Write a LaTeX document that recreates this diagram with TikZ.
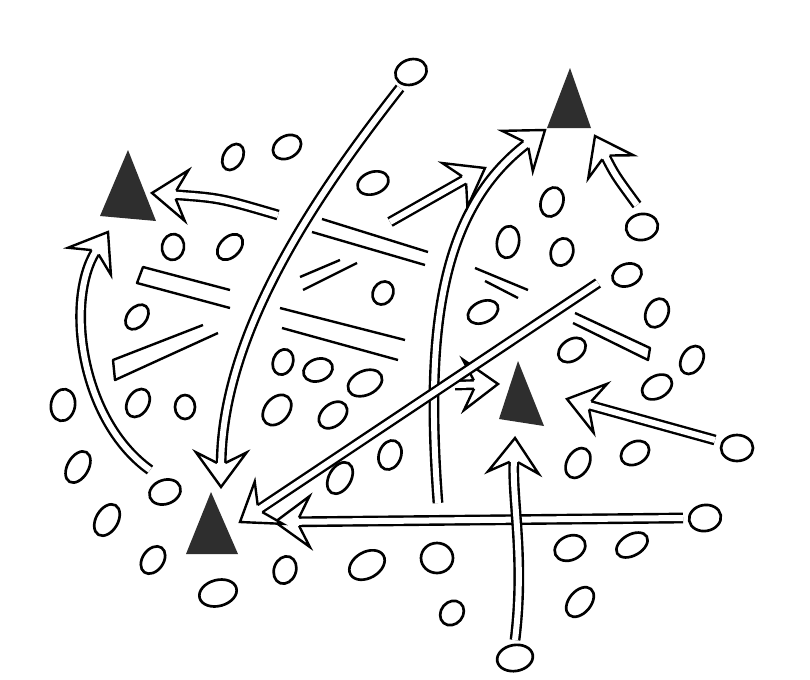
\documentclass[tikz,border=0pt]{standalone}
\usetikzlibrary{shapes.geometric,calc}
\newcommand\pl[5]{\node[player, minimum width=#3*0.75pt, minimum height=#4*0.75pt, rotate=#5] (#1) at (#2) {};}
\newcommand\ahead[2]{%
  \path[headtip] let \p1=(#1), \p2=(#2), \n1={atan2(\y1-\y2,\x1-\x2)} in
    ($(\p1)+(\n1+170.2:18.3pt)$) -- ($(\p1)+(\n1+143.8:32.2pt)$) -- (\p1)
    -- ($(\p1)+(\n1-143.8:32.2pt)$) -- ($(\p1)+(\n1-170.2:18.3pt)$);}
\begin{document}
\begin{tikzpicture}[x=0.75pt,y=-0.75pt,
  player/.style={draw=black, ellipse, line width=2pt, inner sep=0pt, outer sep=0pt},
  coach/.style={fill=black!82},
  dbl/.style={draw=black, line width=1.8pt, double=white, double distance=4.5pt, shorten >=17pt},
  headtip/.style={draw=black, fill=white, line width=1.8pt, line join=miter},
  lane/.style={draw=black, line width=1.8pt, line join=round}]

\useasboundingbox (0,0) rectangle (810,679);
\fill[white] (0,0) rectangle (810,679);

% passing lanes (double lines without heads)
\draw[lane] (230,290) -- (143,267) -- (137,283) -- (230,308);
\draw[lane] (203,325) -- (113,360) -- (115,380) -- (218,333);
\draw[lane] (300,277) -- (340,260) (303,290) -- (357,263);
\draw[lane] (322,219) -- (428,252) (312,232) -- (425,265);
\draw[lane] (280,308) -- (405,340) (282,328) -- (398,360);
\draw[lane] (475,268) -- (528,290) (485,281) -- (518,298);
\draw[lane] (575,313) -- (650,348) -- (648,360) -- (573,323);

% players
\pl{e1}{411,72}{32}{25}{20}
\pl{e2}{233,157}{28}{19}{60}
\pl{e3}{287,147}{30}{22}{30}
\pl{e4}{373,183}{32}{22}{20}
\pl{e5}{173,247}{26}{22}{80}
\pl{e6}{230,247}{30}{20}{45}
\pl{e7}{137,317}{28}{19}{50}
\pl{e8}{383,293}{24}{20}{60}
\pl{e9}{552,202}{30}{22}{70}
\pl{e10}{508,242}{32}{22}{80}
\pl{e11}{562,252}{28}{22}{70}
\pl{e12}{642,227}{32}{26}{10}
\pl{e13}{627,275}{30}{22}{20}
\pl{e14}{657,313}{30}{22}{65}
\pl{e15}{483,312}{32}{21}{25}
\pl{e16}{572,350}{30}{21}{35}
\pl{e17}{692,360}{30}{21}{60}
\pl{e18}{283,362}{26}{20}{70}
\pl{e19}{318,370}{30}{22}{20}
\pl{e20}{365,383}{36}{24}{25}
\pl{e21}{277,410}{34}{24}{50}
\pl{e22}{333,415}{32}{22}{40}
\pl{e23}{390,455}{30}{22}{70}
\pl{e24}{340,478}{34}{22}{60}
\pl{e25}{63,405}{32}{24}{80}
\pl{e26}{138,403}{30}{21}{60}
\pl{e27}{185,407}{24}{20}{90}
\pl{e28}{78,467}{34}{21}{60}
\pl{e29}{165,492}{32}{24}{20}
\pl{e30}{107,520}{34}{22}{60}
\pl{e31}{153,560}{30}{21}{55}
\pl{e32}{218,593}{38}{26}{15}
\pl{e33}{285,570}{28}{22}{70}
\pl{e34}{367,565}{38}{26}{30}
\pl{e35}{657,387}{32}{22}{30}
\pl{e36}{737,448}{32}{26}{0}
\pl{e37}{578,463}{32}{22}{60}
\pl{e38}{635,453}{30}{22}{30}
\pl{e39}{705,518}{32}{26}{10}
\pl{e40}{570,548}{32}{24}{25}
\pl{e41}{632,545}{34}{21}{30}
\pl{e42}{437,558}{32}{30}{0}
\pl{e43}{452,613}{26}{22}{50}
\pl{e44}{580,602}{34}{22}{50}
\pl{e45}{515,658}{36}{26}{10}

% coaches / cones (filled triangles)
\fill[coach] (128,150) -- (100,216) -- (156,221) -- cycle;
\fill[coach] (570,68) -- (547,128) -- (591,128) -- cycle;
\fill[coach] (518,361) -- (499,419) -- (544,426) -- cycle;
\fill[coach] (211,492) -- (186,554) -- (238,554) -- cycle;

% runs and passes (double arrows)
\draw[dbl] (455,385) -- (498,384);            \ahead{498,384}{455,385}
\draw[dbl] (438,503) .. controls (425,330) and (440,210) .. (545,130); \ahead{545,130}{440,210}
\draw[dbl] (400,88) .. controls (320,190) and (222,330) .. (221,487);  \ahead{221,487}{222,330}
\draw[dbl] (150,470) .. controls (80,420) and (65,300) .. (108,232);   \ahead{108,232}{65,300}
\draw[dbl] (278,215) .. controls (220,198) .. (152,193);               \ahead{152,193}{220,198}
\draw[dbl] (390,222) -- (485,168);                                     \ahead{485,168}{390,222}
\draw[dbl] (637,205) .. controls (615,175) .. (595,136);               \ahead{595,136}{615,175}
\draw[dbl] (715,440) -- (567,399);                                     \ahead{567,399}{715,440}
\draw[dbl] (683,518) -- (275,522);                                     \ahead{275,522}{683,518}
\draw[dbl] (515,640) .. controls (525,560) and (512,500) .. (515,438); \ahead{515,438}{512,500}
\draw[dbl] (598,283) -- (240,522);                                     \ahead{240,522}{598,283}

\end{tikzpicture}
\end{document}
